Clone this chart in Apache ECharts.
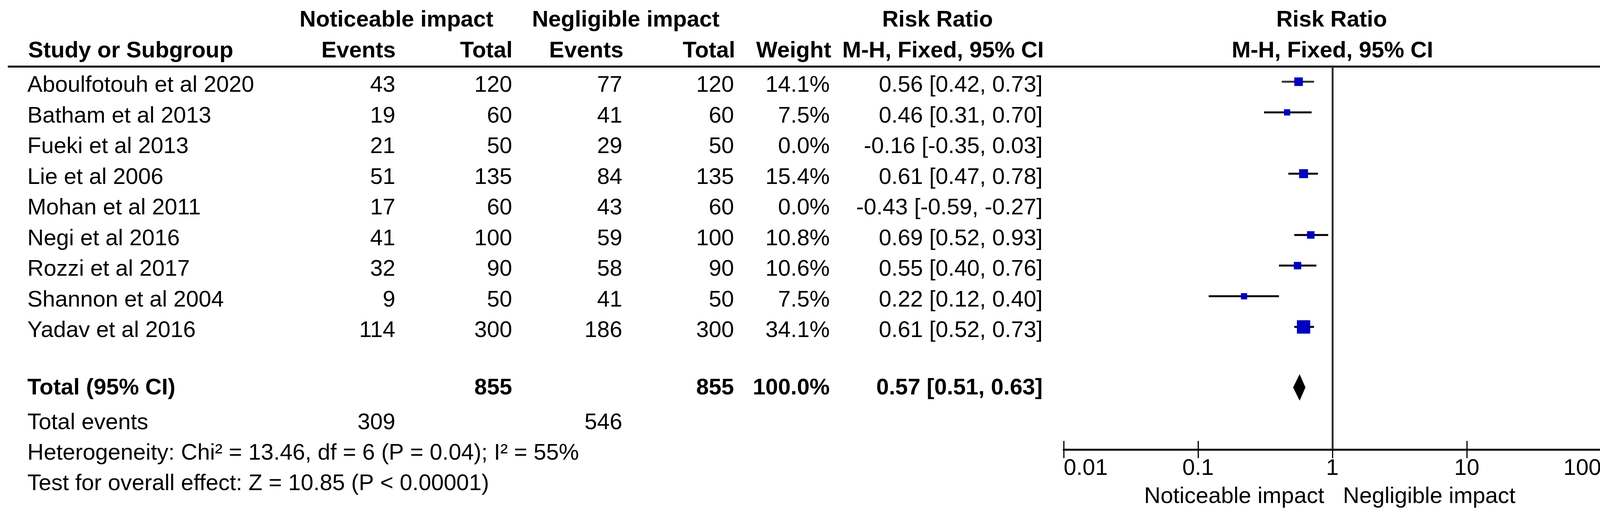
<!DOCTYPE html>
<html><head><meta charset="utf-8">
<script src="https://cdn.jsdelivr.net/npm/echarts@6/dist/echarts.min.js"></script>
<style>html,body{margin:0;padding:0;background:#fff}#c{width:4173px;height:1311px}</style>
</head><body><div id="c"></div>
<script>
// ---- data ----
const groupLabels = ['Noticeable impact', 'Negligible impact'];
const studies = ['Aboulfotouh et al 2020','Batham et al 2013','Fueki et al 2013','Lie et al 2006','Mohan et al 2011','Negi et al 2016','Rozzi et al 2017','Shannon et al 2004','Yadav et al 2016'];
const eventsNoticeable = [43,19,21,51,17,41,32,9,114];
const totalNoticeable  = [120,60,50,135,60,100,90,50,300];
const eventsNegligible = [77,41,29,84,43,59,58,41,186];
const totalNegligible  = [120,60,50,135,60,100,90,50,300];
const weights = [14.1,7.5,0.0,15.4,0.0,10.8,10.6,7.5,34.1];
const riskRatio = [0.56,0.46,-0.16,0.61,-0.43,0.69,0.55,0.22,0.61];
const ciLower   = [0.42,0.31,-0.35,0.47,-0.59,0.52,0.40,0.12,0.52];
const ciUpper   = [0.73,0.70,0.03,0.78,-0.27,0.93,0.76,0.40,0.73];
const pooledTotals = [855, 855];
const pooledWeight = 100.0;
const pooledRR = [0.57, 0.51, 0.63];
const totalEvents = [309, 546];
const heterogeneityText = 'Heterogeneity: Chi\u00B2 = 13.46, df = 6 (P = 0.04); I\u00B2 = 55%';
const overallText = 'Test for overall effect: Z = 10.85 (P < 0.00001)';
const tickValues = [0.01, 0.1, 1, 10, 100];
const tickLabels = ['0.01', '0.1', '1', '10', '100'];

// ---- layout / style ----
const FONT = "'Liberation Sans', Arial, sans-serif";
const FS = 58;
const markerScale = 5.85;
const diamondHalfH = 34;

const chart = echarts.init(document.getElementById('c'), null, {renderer: 'canvas'});

const studyData = [];
studies.forEach((s, i) => {
  if (riskRatio[i] > 0 && ciLower[i] > 0) {
    studyData.push([riskRatio[i], ciLower[i], ciUpper[i], i + 1, weights[i]]);
  }
});
const totalRowIndex = studies.length + 2;

function fmt2(v) { return v.toFixed(2); }
function ciText(r, l, h) { return fmt2(r) + ' [' + fmt2(l) + ', ' + fmt2(h) + ']'; }

const xAxisBase = {
  type: 'log', logBase: 10, min: tickValues[0], max: tickValues[tickValues.length - 1],
  splitNumber: 4, gridIndex: 0, position: 'bottom', splitLine: {show: false}
};

chart.setOption({
  animation: false,
  backgroundColor: '#fff',
  grid: {left: 2723, right: 74, top: 170, bottom: 160, containLabel: false},
  xAxis: [
    Object.assign({}, xAxisBase, {
      axisLine: {show: true, lineStyle: {color: '#000', width: 5}},
      axisTick: {show: true, length: 22, lineStyle: {color: '#000', width: 3}},
      axisLabel: {
        show: true, margin: 20, fontFamily: FONT, fontSize: FS, color: '#000',
        alignMinLabel: 'left', alignMaxLabel: 'right',
        formatter: function (v) {
          const idx = tickValues.findIndex(t => Math.abs(Math.log10(t) - Math.log10(v)) < 1e-6);
          return idx >= 0 ? tickLabels[idx] : '';
        }
      }
    }),
    Object.assign({}, xAxisBase, {
      axisLine: {show: false},
      axisTick: {show: true, inside: true, length: 22, lineStyle: {color: '#000', width: 3}},
      axisLabel: {show: false}
    })
  ],
  yAxis: {type: 'value', inverse: true, min: 0.5, max: 13, show: false, splitLine: {show: false}},
  series: [
    {
      type: 'custom', xAxisIndex: 0, yAxisIndex: 0, data: studyData,
      encode: {x: [0, 1, 2], y: 3},
      renderItem: function (params, api) {
        const y = api.value(3);
        const pL = api.coord([api.value(1), y]);
        const pH = api.coord([api.value(2), y]);
        const pC = api.coord([api.value(0), y]);
        const s = markerScale * Math.sqrt(api.value(4));
        return {type: 'group', children: [
          {type: 'line', shape: {x1: pL[0], y1: pL[1], x2: pH[0], y2: pH[1]}, style: {stroke: params.dataIndex === 0 ? '#333' : '#000', lineWidth: 5}},
          {type: 'rect', shape: {x: pC[0] - s / 2, y: pC[1] - s / 2, width: s, height: s}, style: {fill: '#0000C0'}}
        ]};
      }
    },
    {
      type: 'custom', xAxisIndex: 0, yAxisIndex: 0,
      data: [[pooledRR[0], pooledRR[1], pooledRR[2], totalRowIndex]],
      encode: {x: [0, 1, 2], y: 3},
      renderItem: function (params, api) {
        const y = api.value(3);
        const pL = api.coord([api.value(1), y]);
        const pH = api.coord([api.value(2), y]);
        const pC = api.coord([api.value(0), y]);
        const cy = pC[1] - 2;
        return {type: 'polygon', shape: {points: [
          [pL[0], cy], [pC[0], cy - diamondHalfH], [pH[0], cy], [pC[0], cy + diamondHalfH]
        ]}, style: {fill: '#000'}};
      },
      markLine: {
        silent: true, symbol: 'none', label: {show: false},
        lineStyle: {color: '#333', width: 5, type: 'solid'},
        data: [{xAxis: 1}]
      }
    }
  ]
});

// ---- table text ----
const yPix = k => chart.convertToPixel({yAxisIndex: 0}, k);
const els = [];
function txt(str, x, y, align, bold) {
  els.push({type: 'text', silent: true, style: {
    text: String(str), x: x, y: y, align: align, verticalAlign: 'middle',
    font: (bold ? 'bold ' : '') + FS + 'px ' + FONT, fill: '#000'
  }});
}
const colRight = [1012, 1311, 1593, 1879, 2124, 2669];
const hdrRight = [1013, 1312, 1596, 1882, 2128, 2672];
const nameLeft = 70;

// header row 1
let y = yPix(-1);
txt(groupLabels[0], 1015, y, 'center', true);
txt(groupLabels[1], 1602, y, 'center', true);
txt('Risk Ratio', 2400, y, 'center', true);
txt('Risk Ratio', 3409, y, 'center', true);
// header row 2
y = yPix(0);
txt('Study or Subgroup', 72, y, 'left', true);
['Events', 'Total', 'Events', 'Total', 'Weight', 'M-H, Fixed, 95% CI'].forEach((h, j) => txt(h, hdrRight[j], y, 'right', true));
txt('M-H, Fixed, 95% CI', 3411, y, 'center', true);

// study rows
studies.forEach((s, i) => {
  const yy = yPix(i + 1) + 10;
  txt(s, nameLeft, yy, 'left', false);
  txt(eventsNoticeable[i], colRight[0], yy, 'right', false);
  txt(totalNoticeable[i], colRight[1], yy, 'right', false);
  txt(eventsNegligible[i], colRight[2], yy, 'right', false);
  txt(totalNegligible[i], colRight[3], yy, 'right', false);
  txt(weights[i].toFixed(1) + '%', colRight[4], yy, 'right', false);
  txt(ciText(riskRatio[i], ciLower[i], ciUpper[i]), colRight[5], yy, 'right', false);
});

// total row
y = yPix(totalRowIndex);
txt('Total (95% CI)', nameLeft, y, 'left', true);
txt(pooledTotals[0], colRight[1], y, 'right', true);
txt(pooledTotals[1], colRight[3], y, 'right', true);
txt(pooledWeight.toFixed(1) + '%', colRight[4], y, 'right', true);
txt(ciText(pooledRR[0], pooledRR[1], pooledRR[2]), colRight[5], y, 'right', true);

y = yPix(totalRowIndex + 1) + 10;
txt('Total events', nameLeft, y, 'left', false);
txt(totalEvents[0], colRight[0], y, 'right', false);
txt(totalEvents[1], colRight[2], y, 'right', false);
txt(heterogeneityText, nameLeft, yPix(totalRowIndex + 2) + 10, 'left', false);
txt(overallText, nameLeft, yPix(totalRowIndex + 3) + 10, 'left', false);

// favour labels under the axis
const oneX = chart.convertToPixel({xAxisIndex: 0}, 1);
txt(groupLabels[0], oneX - 21, 1272, 'right', false);
txt(groupLabels[1], oneX + 27, 1272, 'left', false);

// header rule
els.push({type: 'line', silent: true, shape: {x1: 20, y1: 170.5, x2: 4155, y2: 170.5}, style: {stroke: '#000', lineWidth: 5}});

chart.setOption({graphic: els});
</script>
</body></html>
